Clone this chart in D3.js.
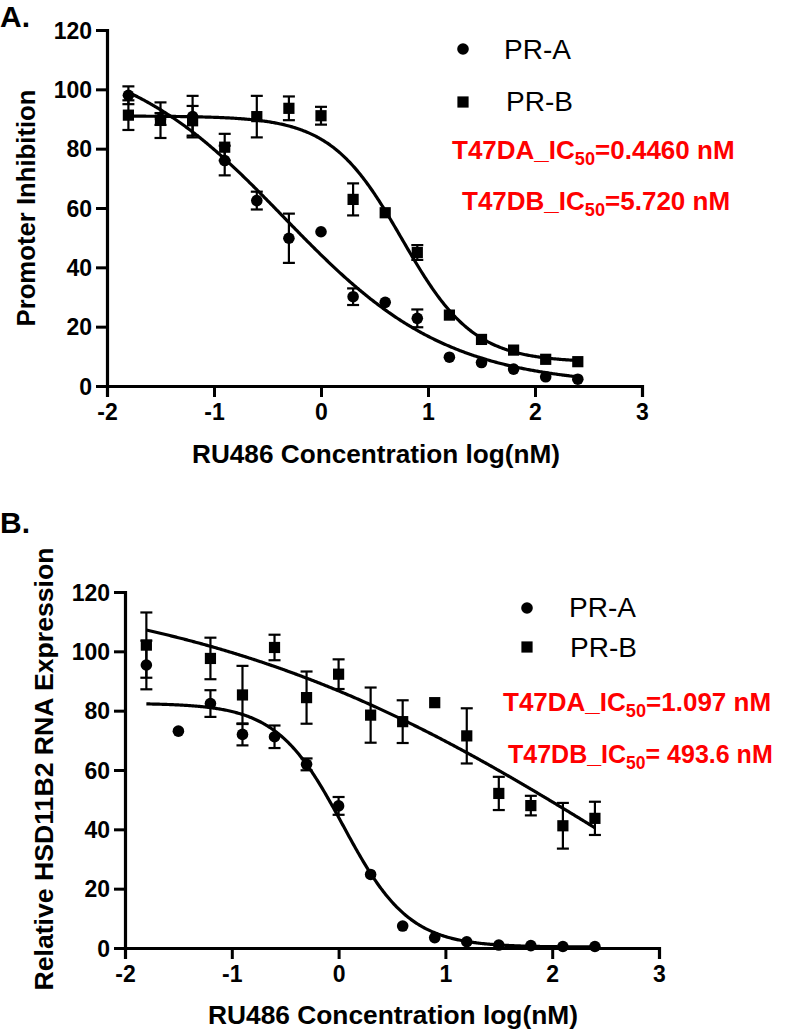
<!DOCTYPE html>
<html>
<head>
<meta charset="utf-8">
<script src="https://cdn.jsdelivr.net/npm/d3@7"></script>
<style>
  html, body { margin: 0; padding: 0; background: #fff; }
  svg { display: block; font-family: "Liberation Sans", Arial, Helvetica, sans-serif; }
</style>
</head>
<body>
<svg id="chart" width="785" height="1031"></svg>
<script>
// ---------- data ----------
const xTicks = [-2, -1, 0, 1, 2, 3];
const yTicks = [0, 20, 40, 60, 80, 100, 120];
const seriesNames = ["PR-A", "PR-B"];

// Panel A: promoter inhibition
const concA = [-1.8, -1.5, -1.2, -0.9, -0.6, -0.3, 0, 0.3, 0.6, 0.9, 1.2, 1.5, 1.8, 2.1, 2.4];
const aPRA = [98, 90, 90.8, 76, 62.5, 49.8, 52, 30.1, 28.2, 22.8, 9.7, 7.9, 5.7, 3.1, 2.3];
const aPRAerr = [3, 2, 7, 5, 3, 8.3, 0, 2.8, 0, 3, 0, 0, 0, 0, 0];
const aPRB = [91.3, 89.6, 89.4, 80.5, 90.8, 93.6, 91.1, 62.9, 58.4, 45, 23.9, 15.7, 12.1, 9, 8.2];
const aPRBerr = [5, 6, 5, 4.5, 7, 4, 3, 5.4, 0, 2.5, 0, 0, 0, 0, 0];
// fitted curve parameters: [top, bottom, IC50 (nM), hill]
const aFitPRA = [114, 0, 0.4460, 0.565];
const aFitPRB = [91, 8, 5.720, 1.3];
const aLabels = ["T47DA_IC|50|=0.4460 nM", "T47DB_IC|50|=5.720 nM"];

// Panel B: HSD11B2 expression
const concBA = [-1.8, -1.5, -1.2, -0.9, -0.6, -0.3, 0, 0.3, 0.6, 0.9, 1.2, 1.5, 1.8, 2.1, 2.4];
const bPRA = [95.4, 73.1, 82.4, 72, 71.2, 61.9, 47.9, 24.8, 7.4, 3.5, 2.1, 1, 0.8, 0.5, 0.5];
const bPRAerr = [8.2, 0, 4.5, 3.7, 3.8, 2, 3, 0, 0, 0, 0, 0, 0, 0, 0];
const concBB = [-1.8, -1.2, -0.9, -0.6, -0.3, 0, 0.3, 0.6, 0.9, 1.2, 1.5, 1.8, 2.1, 2.4];
const bPRB = [102.1, 97.6, 85.3, 101.3, 84.4, 92.3, 78.5, 76.3, 82.7, 71.5, 52.1, 48, 41.2, 43.7];
const bPRBerr = [11, 7, 9.8, 4.3, 8.8, 5, 9.3, 7.2, 0, 9.3, 5.6, 3.3, 7.7, 5.6];
const bFitPRA = [82.5, 0.3, 1.097, 1.4];
const bFitPRB = [126, -58, 493.6, 0.21];
const bLabels = ["T47DA_IC|50|=1.097 nM", "T47DB_IC|50|= 493.6 nM"];

const fitRange = [-1.8, 2.4];

// ---------- drawing ----------
const svg = d3.select("#chart");
const FONT_TICK = 23;

function logistic(p, x) {
  const [top, bottom, ic50, hill] = p;
  return bottom + (top - bottom) / (1 + Math.pow(10, (x - Math.log10(ic50)) * hill));
}

function panel(cfg) {
  const g = svg.append("g");
  const x = d3.scaleLinear().domain([-2, 3]).range(cfg.xr);
  const y = d3.scaleLinear().domain([0, 120]).range(cfg.yr);

  // axes
  const ax = g.append("g").attr("transform", `translate(0,${cfg.yr[0]})`)
    .call(d3.axisBottom(x).tickValues(xTicks).tickSizeOuter(0).tickSize(11).tickPadding(7)
      .tickFormat(d3.format("d")));
  const ay = g.append("g").attr("transform", `translate(${cfg.xr[0]},0)`)
    .call(d3.axisLeft(y).tickValues(yTicks).tickSizeOuter(0).tickSize(11).tickPadding(4));
  [ax, ay].forEach(a => {
    a.select(".domain").attr("stroke", "#000").attr("stroke-width", 3.2);
    a.selectAll(".tick line").attr("stroke", "#000").attr("stroke-width", 3);
    a.selectAll(".tick text").attr("fill", "#000").attr("font-size", FONT_TICK)
      .attr("font-weight", "bold").attr("font-family", "Liberation Sans, Arial, sans-serif");
  });
  ax.selectAll(".tick text").text(d => d < 0 ? "-" + Math.abs(d) : d);
  ay.selectAll(".tick text").attr("dy", "0.36em");

  // fitted curves
  const line = d3.line().x(d => x(d[0])).y(d => y(d[1])).curve(d3.curveLinear);
  cfg.fits.forEach(p => {
    const pts = d3.range(fitRange[0], fitRange[1] + 1e-9, 0.01).map(v => [v, logistic(p, v)]);
    g.append("path").datum(pts).attr("d", line).attr("fill", "none")
      .attr("stroke", "#000").attr("stroke-width", 3.2);
  });

  // error bars + markers
  cfg.series.forEach((s, si) => {
    const data = s.x.map((xv, i) => ({ x: xv, v: s.v[i], e: s.e[i] }));
    const eb = g.append("g");
    data.filter(d => d.e > 0).forEach(d => {
      const cx = x(d.x);
      eb.append("line").attr("x1", cx).attr("x2", cx).attr("y1", y(d.v + d.e)).attr("y2", y(d.v - d.e))
        .attr("stroke", "#000").attr("stroke-width", 2.2);
      [d.v + d.e, d.v - d.e].forEach(t => {
        eb.append("line").attr("x1", cx - 6).attr("x2", cx + 6).attr("y1", y(t)).attr("y2", y(t))
          .attr("stroke", "#000").attr("stroke-width", 2.2);
      });
    });
    const mk = g.append("g");
    if (si === 0) {
      mk.selectAll("circle").data(data).join("circle")
        .attr("cx", d => x(d.x)).attr("cy", d => y(d.v)).attr("r", 5.8).attr("fill", "#000");
    } else {
      mk.selectAll("rect").data(data).join("rect")
        .attr("x", d => x(d.x) - 5.6).attr("y", d => y(d.v) - 5.6)
        .attr("width", 11.2).attr("height", 11.2).attr("fill", "#000");
    }
  });

  // axis titles
  g.append("text").attr("x", cfg.xt[0]).attr("y", cfg.xt[1]).attr("text-anchor", "middle")
    .attr("font-size", 25).attr("font-weight", "bold").attr("textLength", cfg.xt[2])
    .attr("lengthAdjust", "spacingAndGlyphs").text("RU486 Concentration log(nM)");
  g.append("text").attr("transform", `translate(${cfg.yt[0]},${cfg.yt[1]}) rotate(-90)`)
    .attr("text-anchor", "middle").attr("font-size", 25).attr("font-weight", "bold")
    .attr("textLength", cfg.yt[2]).attr("lengthAdjust", "spacingAndGlyphs").text(cfg.ytitle);

  // panel letter
  g.append("text").attr("x", cfg.letter[0]).attr("y", cfg.letter[1]).attr("font-size", 30)
    .attr("font-weight", "bold").text(cfg.letterText);

  // legend
  seriesNames.forEach((n, i) => {
    const [lx, ly] = cfg.legend[i];
    if (i === 0) g.append("circle").attr("cx", lx).attr("cy", ly).attr("r", 5.8).attr("fill", "#000");
    else g.append("rect").attr("x", lx - 5.6).attr("y", ly - 5.6).attr("width", 11.2).attr("height", 11.2).attr("fill", "#000");
    g.append("text").attr("x", cfg.legendText[i][0]).attr("y", cfg.legendText[i][1])
      .attr("font-size", 28).attr("fill", "#000").text(n);
  });

  // IC50 labels
  cfg.labels.forEach((lab, i) => {
    const parts = lab.split("|");
    const fs = cfg.labelSize[i];
    const t = g.append("text").attr("x", cfg.labelPos[i][0]).attr("y", cfg.labelPos[i][1])
      .attr("font-size", fs).attr("font-weight", "bold").attr("fill", "#ff0000");
    t.append("tspan").text(parts[0]);
    t.append("tspan").attr("font-size", fs * 0.7).attr("dy", 6).text(parts[1]);
    t.append("tspan").attr("dy", -6).text(parts[2]);
  });
}

panel({
  xr: [107, 642], yr: [386, 30],
  fits: [aFitPRA, aFitPRB],
  series: [{ x: concA, v: aPRA, e: aPRAerr }, { x: concA, v: aPRB, e: aPRBerr }],
  xt: [376, 463, 368], yt: [35, 208, 237], ytitle: "Promoter Inhibition",
  letter: [0, 27], letterText: "A.",
  legend: [[463, 49], [463, 102]], legendText: [[504, 59], [506, 111]],
  labels: aLabels, labelPos: [[452, 159], [462, 210]], labelSize: [26, 26]
});

panel({
  xr: [125, 659], yr: [948, 592],
  fits: [bFitPRA, bFitPRB],
  series: [{ x: concBA, v: bPRA, e: bPRAerr }, { x: concBB, v: bPRB, e: bPRBerr }],
  xt: [393, 1024, 370], yt: [53, 769, 443], ytitle: "Relative HSD11B2 RNA Expression",
  letter: [0, 533], letterText: "B.",
  legend: [[527, 608], [527, 647]], legendText: [[569, 617], [570, 657]],
  labels: bLabels, labelPos: [[503, 711], [508, 763]], labelSize: [26, 25]
});
</script>
</body>
</html>
